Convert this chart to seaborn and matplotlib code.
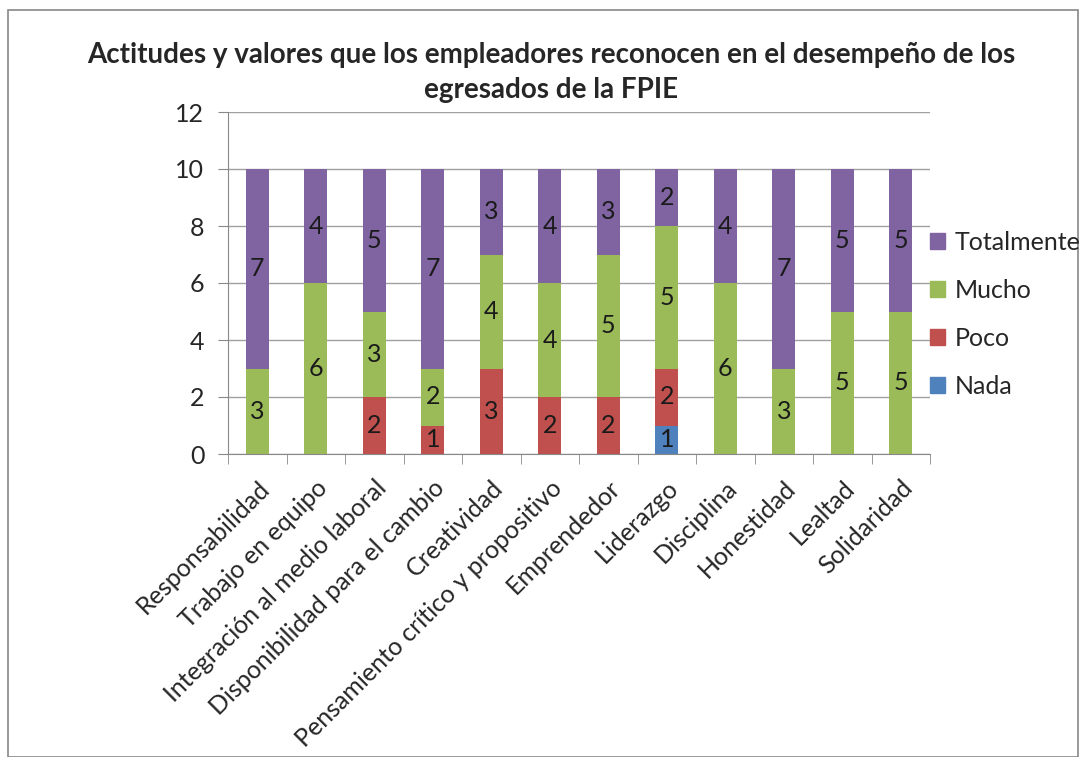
import seaborn as sns
import matplotlib.pyplot as plt
import matplotlib.patches as mpatches
import numpy as np
import pandas as pd

categorias = ['Responsabilidad', 'Trabajo en equipo', 'Integración al medio laboral',
              'Disponibilidad para el cambio', 'Creatividad',
              'Pensamiento crítico y propositivo', 'Emprendedor', 'Liderazgo',
              'Disciplina', 'Honestidad', 'Lealtad', 'Solidaridad']
nada = [0, 0, 0, 0, 0, 0, 0, 1, 0, 0, 0, 0]
poco = [0, 0, 2, 1, 3, 2, 2, 2, 0, 0, 0, 0]
mucho = [3, 6, 3, 2, 4, 4, 5, 5, 6, 3, 5, 5]
totalmente = [7, 4, 5, 7, 3, 4, 3, 2, 4, 7, 5, 5]

series = ['Nada', 'Poco', 'Mucho', 'Totalmente']
colores = ['#4F81BD', '#C0504D', '#9BBB59', '#8064A2']
df = pd.DataFrame({'cat': categorias, 'Nada': nada, 'Poco': poco,
                   'Mucho': mucho, 'Totalmente': totalmente})

sns.set_style('white')
plt.rcParams['font.family'] = ['Lato', 'DejaVu Sans']

fig = plt.figure(figsize=(10.83, 7.57), dpi=100)
ax = fig.add_axes([228 / 1083, 1 - 454 / 757, 702 / 1083, 342 / 757])

base = np.zeros(len(categorias))
for s, c in zip(series, colores):
    sns.barplot(data=df, x='cat', y=s, color=c, width=0.4, bottom=base,
                ax=ax, saturation=1, linewidth=0)
    cont = ax.containers[-1]
    etiquetas = [str(v) if v > 0 else '' for v in df[s]]
    ax.bar_label(cont, labels=etiquetas, label_type='center', fontsize=18, color='#1a1a1a')
    base = base + df[s].values

if ax.get_legend() is not None:
    ax.get_legend().remove()

ax.set_ylim(0, 12)
ax.set_yticks(range(0, 13, 2))
ax.set_xlim(-0.5, len(categorias) - 0.5)
ax.yaxis.grid(True, color='#a0a0a0', linewidth=1)
ax.set_axisbelow(True)
ax.set_xlabel('')
ax.set_ylabel('')
for sp in ['top', 'right']:
    ax.spines[sp].set_visible(False)
for sp in ['left', 'bottom']:
    ax.spines[sp].set_color('#888888')
ax.tick_params(axis='y', length=7, color='#888888', labelsize=18, left=True, pad=10)
ax.set_xticks(np.arange(len(categorias)))
ax.set_xticklabels(categorias, rotation=45, ha='right', rotation_mode='anchor', fontsize=18)
ax.tick_params(axis='x', length=0, pad=16)
ax.set_xticks(np.arange(-0.5, len(categorias)), minor=True)
ax.tick_params(axis='x', which='minor', length=7, color='#888888', bottom=True)

fig.text(551 / 1083, 1 - 55 / 757,
         'Actitudes y valores que los empleadores reconocen en el desempeño de los',
         ha='center', va='center', fontsize=20, fontweight='bold')
fig.text(551 / 1083, 1 - 90 / 757, 'egresados de la FPIE',
         ha='center', va='center', fontsize=20, fontweight='bold')

handles = [mpatches.Patch(color=c, label=s) for s, c in zip(series, colores)][::-1]
fig.legend(handles=handles, loc='center left', bbox_to_anchor=(925 / 1083, 1 - 314 / 757),
           frameon=False, fontsize=18, handlelength=0.6, handleheight=0.6,
           handletextpad=0.4, labelspacing=1.0, borderaxespad=0, borderpad=0.2)

fig.patches.append(mpatches.Rectangle((8 / 1083, 0), 1070 / 1083, 1 - 10 / 757,
                                      transform=fig.transFigure, fill=False,
                                      edgecolor='#888888', linewidth=1.2))

fig.savefig('out.png', dpi=100)
